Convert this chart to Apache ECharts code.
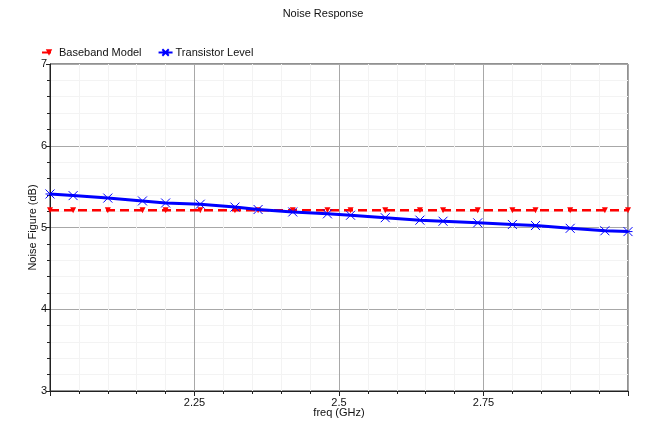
<!DOCTYPE html>
<html>
<head>
<meta charset="utf-8">
<script src="https://cdn.jsdelivr.net/npm/echarts@6/dist/echarts.min.js"></script>
<style>html,body{margin:0;padding:0;background:#fff}#c{width:646px;height:423px}</style>
</head>
<body>
<div id="c"></div>
<script>
var freq = [2.0, 2.04, 2.1, 2.16, 2.2, 2.26, 2.32, 2.36, 2.42, 2.48, 2.52, 2.58, 2.64, 2.68, 2.74, 2.8, 2.84, 2.9, 2.96, 3.0];
var baseband = [5.21, 5.21, 5.21, 5.21, 5.21, 5.21, 5.21, 5.21, 5.21, 5.21, 5.21, 5.21, 5.21, 5.21, 5.21, 5.21, 5.21, 5.21, 5.21, 5.21];
var transistor = [5.41, 5.39, 5.36, 5.325, 5.30, 5.285, 5.25, 5.22, 5.19, 5.167, 5.15, 5.12, 5.09, 5.077, 5.057, 5.037, 5.024, 4.99, 4.96, 4.95];
var xTickLabels = ['2.25', '2.5', '2.75'];
var yTickLabels = ['3', '4', '5', '6', '7'];
var seriesNames = ['Baseband Model', 'Transistor Level'];

function pairs(xs, ys){ return xs.map(function(x,i){ return [x, ys[i]]; }); }

var font = 'Liberation Sans';
var star = 'path://M0,0L10,10M10,0L0,10M0,5L10,5';
var chart = echarts.init(document.getElementById('c'));
chart.setOption({
  animation: false,
  title: {
    text: 'Noise Response', left: 'center', top: 3,
    textStyle: { fontFamily: font, fontSize: 11, fontWeight: 'normal', color: '#111' }
  },
  legend: {
    left: 36, top: 42, itemWidth: 14, itemHeight: 8, itemGap: 16,
    textStyle: { fontFamily: font, fontSize: 11, color: '#111', padding: [0,0,0,-2] },
    data: seriesNames
  },
  grid: { left: 50, right: 18, top: 64, bottom: 31, show: true, borderColor: '#222', borderWidth: 1 },
  xAxis: {
    type: 'value', min: 2.0, max: 3.0, interval: 0.25,
    name: 'freq (GHz)', nameLocation: 'middle', nameGap: 16, nameMoveOverlap: false,
    nameTextStyle: { fontFamily: font, fontSize: 11, color: '#111' },
    axisLine: { lineStyle: { color: '#222' } },
    axisTick: { show: true, length: 5, lineStyle: { color: '#222' } },
    minorTick: { show: true, splitNumber: 5, length: 3, lineStyle: { color: '#222' } },
    splitLine: { show: true, lineStyle: { color: '#a8a8a8', width: 1 } },
    minorSplitLine: { show: true, lineStyle: { color: '#f3f3f3', width: 1 } },
    axisLabel: {
      fontFamily: font, fontSize: 11, color: '#111', margin: 6,
      formatter: function(v){ var s = String(Math.round(v*100)/100); return xTickLabels.indexOf(s) >= 0 ? s : ''; }
    }
  },
  yAxis: {
    type: 'value', min: 3, max: 7, interval: 1,
    name: 'Noise Figure (dB)', nameLocation: 'middle', nameGap: 12, nameRotate: 90, nameMoveOverlap: false,
    nameTextStyle: { fontFamily: font, fontSize: 11, color: '#111' },
    axisLine: { show: true, lineStyle: { color: '#222' } },
    axisTick: { show: true, length: 4, lineStyle: { color: '#222' } },
    minorTick: { show: true, splitNumber: 5, length: 3, lineStyle: { color: '#222' } },
    splitLine: { show: true, lineStyle: { color: '#a8a8a8', width: 1 } },
    minorSplitLine: { show: true, lineStyle: { color: '#f3f3f3', width: 1 } },
    axisLabel: {
      fontFamily: font, fontSize: 11, color: '#111', margin: 3,
      formatter: function(v){ var s = String(v); return yTickLabels.indexOf(s) >= 0 ? s : ''; }
    }
  },
  series: [
    {
      name: seriesNames[0], type: 'line', data: pairs(freq, baseband), z: 3,
      symbol: 'triangle', symbolRotate: 180, symbolSize: 6,
      lineStyle: { color: '#ff0000', width: 2.5, type: [9, 5] },
      itemStyle: { color: '#ff0000' }
    },
    {
      name: seriesNames[1], type: 'line', data: pairs(freq, transistor), z: 4,
      symbol: star, symbolSize: 9,
      lineStyle: { color: '#0000ff', width: 3 },
      itemStyle: { color: 'transparent', borderColor: '#0000ff', borderWidth: 1 }
    }
  ]
});
</script>
</body>
</html>
